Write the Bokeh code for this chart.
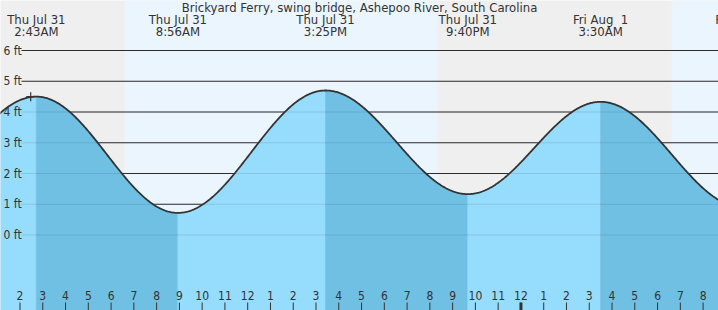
import numpy as np
from bokeh.plotting import figure
from bokeh.models import Range1d
from bokeh.core.properties import value
from bokeh.embed import file_html
from bokeh.resources import INLINE

title_text = "Brickyard Ferry, swing bridge, Ashepoo River, South Carolina"

# Tide extremes, hours since midnight Thu Jul 31 (negative = Wed Jul 30)
tide_hours = [-3.5, 2.717, 8.933, 15.417, 21.667, 27.5, 33.75]
tide_heights = [1.0, 4.5, 0.72, 4.7, 1.33, 4.33, 0.9]
tide_day = ["Wed Jul 30", "Thu Jul 31", "Thu Jul 31", "Thu Jul 31", "Thu Jul 31",
            "Fri Aug \u00a01", "Fri Aug \u00a01"]
tide_time = ["8:30PM", "2:43AM", "8:56AM", "3:25PM", "9:40PM", "3:30AM", "9:45AM"]

# Sun times (hours since midnight Thu Jul 31)
sunrise_hours = [6.59, 30.61]
sunset_hours = [20.34]

# Current time marker
now_hour = [2.47]
now_height = [4.5]

ft_levels = [0, 1, 2, 3, 4, 5, 6]
ft_labels = ["0 ft", "1 ft", "2 ft", "3 ft", "4 ft", "5 ft", "6 ft"]

hour_ticks = [2, 3, 4, 5, 6, 7, 8, 9, 10, 11, 12, 13, 14, 15, 16, 17, 18, 19, 20,
              21, 22, 23, 24, 25, 26, 27, 28, 29, 30, 31, 32]
hour_labels = ["2", "3", "4", "5", "6", "7", "8", "9", "10", "11", "12", "1", "2", "3",
               "4", "5", "6", "7", "8", "9", "10", "11", "12", "1", "2", "3", "4", "5",
               "6", "7", "8"]
midnight_ticks = [24]

# ---- layout constants ----
W, H = 718, 310
PX_PER_HOUR = 22.77
PX_PER_FT = 30.75
x_start = 2 - 19.5 / PX_PER_HOUR
x_end = x_start + W / PX_PER_HOUR
y_max = 234.5 / PX_PER_FT
y_min = -(H - 234.5) / PX_PER_FT

FONT = value("DejaVu Sans Condensed")
TXT = "#333333"
NIGHT_BG = "#efefef"
DAY_BG = "#ebf5fe"
WATER_RISE = "#96dcfc"
WATER_FALL = "#70c0e4"

p = figure(width=W, height=H, x_range=Range1d(x_start, x_end), y_range=Range1d(y_min, y_max),
           toolbar_location=None, output_backend="svg", min_border=0)
p.axis.visible = False
p.grid.visible = False
p.outline_line_color = None
p.background_fill_color = NIGHT_BG
p.border_fill_color = NIGHT_BG

# day bands
day_left = [sunrise_hours[0], sunrise_hours[1]]
day_right = [sunset_hours[0], x_end + 5]
p.quad(left=day_left, right=day_right, bottom=y_min - 1, top=y_max + 1,
       fill_color=DAY_BG, line_color=None)

# grid lines (dark)
grid_x0 = x_start + 21 / PX_PER_HOUR
p.segment(x0=[grid_x0] * len(ft_levels), x1=[x_end + 1] * len(ft_levels),
          y0=ft_levels, y1=ft_levels, line_color="#333333", line_width=1.2)

# tide curve via cosine interpolation between extremes
th = np.array(tide_hours)
tv = np.array(tide_heights)


def tide_at(t):
    t = np.asarray(t, dtype=float)
    i = np.clip(np.searchsorted(th, t, side="right") - 1, 0, len(th) - 2)
    f = (t - th[i]) / (th[i + 1] - th[i])
    return tv[i] + (tv[i + 1] - tv[i]) * (1 - np.cos(np.pi * f)) / 2


xs_list, ys_list, colors = [], [], []
for i in range(len(th) - 1):
    a = max(th[i], x_start - 0.2)
    b = min(th[i + 1], x_end + 0.2)
    if b <= a:
        continue
    ts = np.linspace(a, b, 120)
    ys = tide_at(ts)
    xs_list.append(list(ts) + [b, a])
    ys_list.append(list(ys) + [y_min - 1, y_min - 1])
    colors.append(WATER_FALL if tv[i + 1] < tv[i] else WATER_RISE)
p.patches(xs=xs_list, ys=ys_list, fill_color=colors, line_color=colors, line_width=0.6)

# faint grid lines through the water
p.segment(x0=[grid_x0] * len(ft_levels), x1=[x_end + 1] * len(ft_levels),
          y0=ft_levels, y1=ft_levels, line_color="#000000", line_alpha=0.1, line_width=1.2)

# curve line
tt = np.linspace(x_start - 0.2, x_end + 0.2, 900)
p.line(tt, tide_at(tt), line_color="#333333", line_width=1.8)

# current-time marker
p.scatter(now_hour, now_height, marker="cross", size=9, line_color="#333333", line_width=1.2)

# ft labels
p.text(x=[x_start] * len(ft_levels), y=ft_levels, text=ft_labels, x_offset=3,
       text_baseline="middle", text_align="left", text_font=FONT,
       text_font_size="12px", text_color=TXT)

# hour ticks and labels
p.ray(x=hour_ticks, y=[y_min] * len(hour_ticks), length=8, length_units="screen",
      angle=np.pi / 2, line_color="#333333", line_width=1)
p.ray(x=midnight_ticks, y=[y_min] * len(midnight_ticks), length=8, length_units="screen",
      angle=np.pi / 2, line_color="#333333", line_width=3)
p.text(x=hour_ticks, y=[y_min] * len(hour_ticks), text=hour_labels, y_offset=-15,
       text_baseline="middle", text_align="center", text_font=FONT,
       text_font_size="12px", text_color=TXT)

# tide time labels (only for extremes inside the visible window)
vis = [i for i, h in enumerate(tide_hours) if h >= x_start]
lab_x = [tide_hours[i] for i in vis]
p.text(x=lab_x, y=[y_max] * len(vis), text=[tide_day[i] for i in vis], y_offset=19,
       text_baseline="middle", text_align="center", text_font=FONT,
       text_font_size="13px", text_color=TXT)
p.text(x=lab_x, y=[y_max] * len(vis), text=[tide_time[i] for i in vis], y_offset=31,
       text_baseline="middle", text_align="center", text_font=FONT,
       text_font_size="13px", text_color=TXT)

# title
p.text(x=[(x_start + x_end) / 2], y=[y_max], text=[title_text], y_offset=7,
       text_baseline="middle", text_align="center", text_font=FONT,
       text_font_size="13px", text_color=TXT)

open("out.html", "w").write(file_html(p, INLINE))
